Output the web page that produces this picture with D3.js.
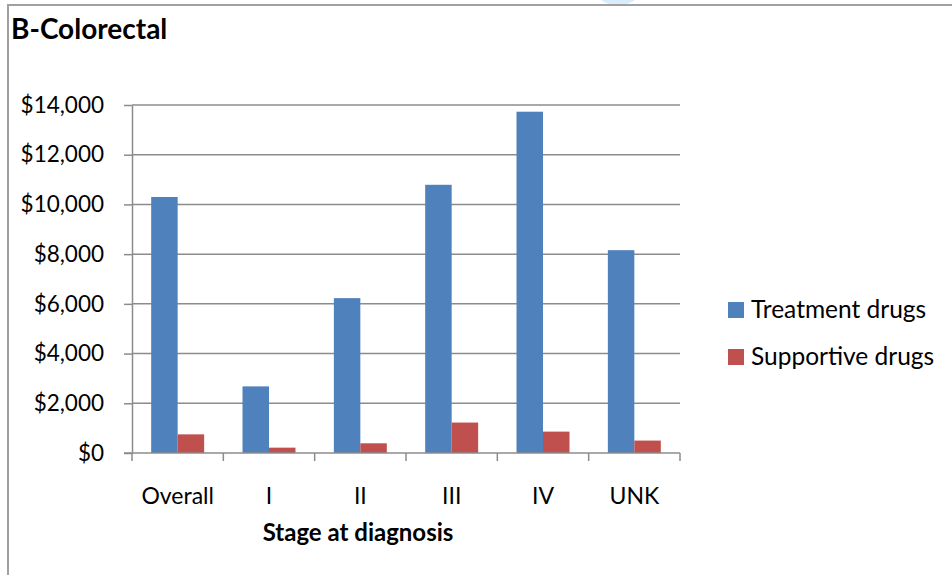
<!DOCTYPE html>
<html>
<head>
<meta charset="utf-8">
<script src="https://cdn.jsdelivr.net/npm/d3@7"></script>
<style>
  html, body { margin: 0; padding: 0; background: #fff; }
  svg { display: block; font-family: Lato, "Open Sans", sans-serif; }
</style>
</head>
<body>
<div id="container"></div>
<script>
const width = 952, height = 575;

// --- Data ---
const stages = ["Overall", "I", "II", "III", "IV", "UNK"];
const treatment = [10300, 2680, 6230, 10790, 13730, 8160];
const supportive = [750, 215, 390, 1225, 860, 500];
const seriesNames = ["Treatment drugs", "Supportive drugs"];
const seriesColors = ["#4F81BD", "#C0504D"];
const yTicks = [0, 2000, 4000, 6000, 8000, 10000, 12000, 14000];

const rows = stages.map((s, i) => ({ stage: s, values: [treatment[i], supportive[i]] }));

const svg = d3.select("#container").append("svg")
  .attr("width", width).attr("height", height);

// faint watermark arc peeking at the top
svg.append("ellipse")
  .attr("cx", 618).attr("cy", -6).attr("rx", 20).attr("ry", 11)
  .attr("fill", "#d8edfb");

// frame (left + top edge)
svg.append("path")
  .attr("d", "M8,575 V5 H952")
  .attr("fill", "none").attr("stroke", "#a0a0a0").attr("stroke-width", 2);

// title
svg.append("text")
  .attr("x", 11).attr("y", 39)
  .style("font-size", "28px").style("font-weight", "700").attr("fill", "#000")
  .text("B-Colorectal");

// --- Plot area ---
const plotL = 132, plotR = 680, plotT = 105, plotB = 453;

const x = d3.scaleBand().domain(stages).range([plotL, plotR]).padding(0);
const sub = d3.scaleBand().domain([0, 1])
  .range([x.bandwidth() * 0.21, x.bandwidth() * 0.79]).padding(0);
const y = d3.scaleLinear().domain([0, 14000]).range([plotB, plotT]);

// gridlines
svg.append("g").selectAll("line").data(yTicks.slice(1)).join("line")
  .attr("x1", plotL).attr("x2", plotR)
  .attr("y1", d => y(d)).attr("y2", d => y(d))
  .attr("stroke", "#8c8c8c").attr("stroke-width", 1.5);

// bars
const groups = svg.append("g").selectAll("g").data(rows).join("g")
  .attr("transform", d => `translate(${x(d.stage)},0)`);
groups.selectAll("rect").data(d => d.values).join("rect")
  .attr("x", (d, i) => sub(i))
  .attr("width", sub.bandwidth())
  .attr("y", d => y(d))
  .attr("height", d => y(0) - y(d))
  .attr("fill", (d, i) => seriesColors[i]);

// y axis
const yAx = svg.append("g").attr("transform", `translate(${plotL},0)`)
  .call(d3.axisLeft(y).tickValues(yTicks).tickSize(8).tickSizeOuter(0)
    .tickPadding(20).tickFormat(d => "$" + d3.format(",")(d)));
yAx.select(".domain").attr("stroke", "#8c8c8c").attr("stroke-width", 1.5);
yAx.selectAll(".tick line").attr("stroke", "#8c8c8c").attr("stroke-width", 1.5);
yAx.selectAll("text").attr("fill", "#000").style("font-size", "22.5px")
  .style("font-family", "Lato, sans-serif");

// x axis
const xAx = svg.append("g").attr("transform", `translate(0,${plotB})`)
  .call(d3.axisBottom(x).tickSize(0).tickPadding(0));
xAx.select(".domain").remove();
xAx.selectAll("text").attr("fill", "#000").style("font-size", "23px")
  .style("font-family", "Lato, sans-serif")
  .attr("y", 51).attr("dy", 0);
xAx.append("line").attr("x1", plotL - 8).attr("x2", plotR)
  .attr("stroke", "#8c8c8c").attr("stroke-width", 1.5);
xAx.append("g").selectAll("line").data(stages.map(s => x(s)).concat([plotR])).join("line")
  .attr("x1", d => d).attr("x2", d => d).attr("y1", 0).attr("y2", 8)
  .attr("stroke", "#8c8c8c").attr("stroke-width", 1.5);

// x axis title
svg.append("text")
  .attr("x", 358).attr("y", 541)
  .attr("text-anchor", "middle").attr("fill", "#000")
  .style("font-size", "24px").style("font-weight", "700")
  .text("Stage at diagnosis");

// legend
const legend = svg.append("g").selectAll("g").data(seriesNames).join("g")
  .attr("transform", (d, i) => `translate(728,${302 + i * 47})`);
legend.append("rect").attr("width", 16).attr("height", 16)
  .attr("fill", (d, i) => seriesColors[i]);
legend.append("text").attr("x", 23).attr("y", 16)
  .attr("fill", "#000").style("font-size", "24.5px")
  .text(d => d);
</script>
</body>
</html>
